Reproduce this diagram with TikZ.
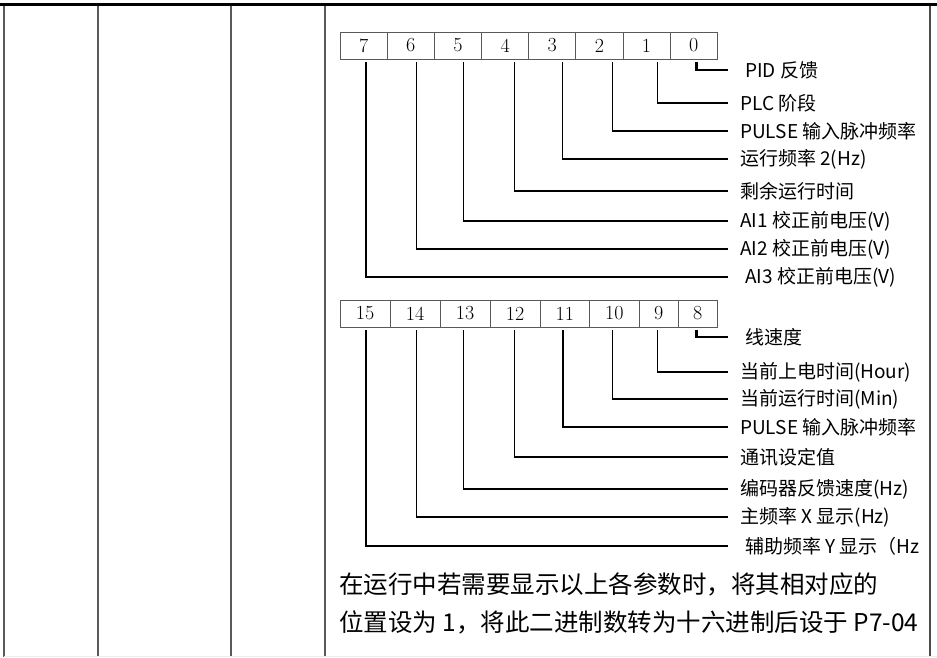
\documentclass[tikz,border=0pt]{standalone}
\usepackage{fontspec}
\usepackage{xcolor}
\newfontfamily\cjk{Noto Sans CJK SC}

\begin{document}
\begin{tikzpicture}[x=1pt,y=-1pt,
  bit/.style={draw=gray!70!black,line width=0.8pt,minimum height=27pt,inner sep=0pt,font=\fontsize{20}{20}\selectfont},
  lbl/.style={anchor=west,inner ysep=0pt,font=\cjk\fontsize{19}{19}\selectfont},
  wire/.style={line width=1.5pt}]
\useasboundingbox (0,0) rectangle (937,657);
\draw[line width=3pt](0,4)--(937,4);
\foreach \x in {4,98,231,325}{
  \draw[gray!70!black,line width=2pt](\x,5.5)--(\x,657);}
\draw[gray!60!black,line width=1.2pt](930,5.5)--(930,657);
\draw[gray!15,line width=1pt](4,656.5)--(937,656.5);
\foreach \n/\c/\w/\y in {7/363.6/47.2/45.5,6/410.7/47.2/45.5,5/457.9/47.2/45.5,4/505.1/47.2/45.5,
  3/552.2/47.2/45.5,2/599.4/47.2/45.5,1/646.5/47.2/45.5,0/693.7/47.2/45.5,
  15/365/50/313.5,14/415/50/313.5,13/465/50/313.5,12/515/50/313.5,
  11/564.8/49.5/313.5,10/614.4/49.8/313.5,9/658.8/39/313.5,8/697.8/39/313.5}{
  \node[bit,minimum width=\w pt] (b\n) at (\c,\y) {\n};}
\foreach \n/\y/\s/\t in {0/70/17/{PID 反馈},1/103/12/{PLC 阶段},2/131/12/{PULSE 输入脉冲频率},
  3/159/12/{运行频率 2(Hz)},4/191/12/{剩余运行时间},5/221/12/{AI1 校正前电压(V)},
  6/249/12/{AI2 校正前电压(V)},7/277/17/{AI3 校正前电压(V)},
  8/337/17/{线速度},9/372/12/{当前上电时间(Hour)},10/399/12/{当前运行时间(Min)},
  11/427/12/{PULSE 输入脉冲频率},12/457/12/{通讯设定值},13/489/12/{编码器反馈速度(Hz)},
  14/517/12/{主频率 X 显示(Hz)},15/546/17/{辅助频率 Y 显示（Hz}}{
  \node[lbl,inner xsep=\s pt] (t\n) at (728,\y) {\t};}
\foreach \n/\dx/\lw in {7/2.4/2.6,6/6/1.5,5/5.4/1.5,4/9.2/1.5,3/10.5/1.5,2/13/1.5,1/10.8/1.5,0/3/2.8,
  15/1/2.6,14/1.7/1.5,13/-1.7/1.5,12/-0.7/1.5,11/-2/1.5,10/-1.9/1.5,9/-1.5/1.5,8/-1.1/2.8}{
  \draw[wire,line width=\lw pt]([xshift=\dx pt,yshift=-2.5pt]b\n.south)|-(t\n.west);}
\node[anchor=west,inner sep=0pt,align=left,font=\cjk\fontsize{24.5}{38}\selectfont] (note) at (339,603)
  {在运行中若需要显示以上各参数时，将其相对应的\\位置设为 1，将此二进制数转为十六进制后设于 P7-04};
\end{tikzpicture}
\end{document}
